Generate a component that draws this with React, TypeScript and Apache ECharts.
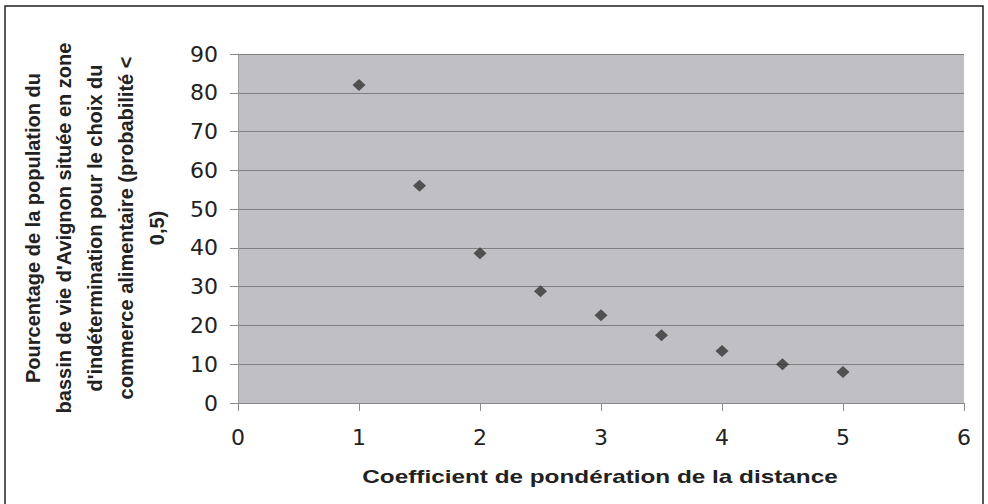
import React, { useEffect, useRef } from "react";
import * as echarts from "echarts";

const xValues = [1, 1.5, 2, 2.5, 3, 3.5, 4, 4.5, 5];
const yValues = [82, 56, 38.6, 28.8, 22.6, 17.5, 13.4, 10, 8];
const yTitleLines = [
  "Pourcentage de la population du",
  "bassin de vie d'Avignon située en zone",
  "d'indétermination pour le choix du",
  "commerce alimentaire (probabilité <",
  "0,5)",
];
const xTitle = "Coefficient de pondération de la distance";

export default function App() {
  const ref = useRef<HTMLDivElement>(null);
  useEffect(() => {
    document.body.style.margin = "0";
    const chart = echarts.init(ref.current!, null, { renderer: "svg" });
    const font = "Liberation Sans, Arial, sans-serif";
    const tickFont = "DejaVu Sans, sans-serif";
    chart.setOption({
      animation: false,
      backgroundColor: "#ffffff",
      grid: { left: 238, top: 54, right: 24, bottom: 101, show: true, backgroundColor: "#c0c0c4", borderWidth: 0 },
      xAxis: {
        type: "value",
        min: 0,
        max: 6,
        interval: 1,
        axisLine: { show: true, lineStyle: { color: "#8a8a8a", width: 1 } },
        axisTick: { show: true, inside: false, length: 8, lineStyle: { color: "#8a8a8a" } },
        splitLine: { show: false },
        axisLabel: { fontFamily: tickFont, fontSize: 22, color: "#222", margin: 23 },
      },
      yAxis: {
        type: "value",
        min: 0,
        max: 90,
        interval: 10,
        axisLine: { show: true, lineStyle: { color: "#9a9a9a", width: 1 } },
        axisTick: { show: true, inside: false, length: 8, lineStyle: { color: "#8a8a8a" } },
        splitLine: { show: true, lineStyle: { color: "#7e7e7e", width: 1.2 } },
        axisLabel: { fontFamily: tickFont, fontSize: 22, color: "#222", margin: 20 },
      },
      series: [
        {
          type: "scatter",
          data: xValues.map((x, i) => [x, yValues[i]]),
          symbol: "diamond",
          symbolSize: [13, 12],
          itemStyle: { color: "#333333" },
        },
      ],
      graphic: [
        {
          type: "rect",
          shape: { x: 5, y: 6, width: 978, height: 520 },
          style: { fill: "none", stroke: "#222", lineWidth: 1.5 },
          silent: true,
        },
        {
          type: "text",
          x: 95,
          y: 228,
          rotation: Math.PI / 2,
          style: {
            text: yTitleLines.join("\n"),
            font: `bold 20px ${font}`,
            fill: "#222",
            align: "center",
            verticalAlign: "middle",
            lineHeight: 31,
          },
        },
        {
          type: "text",
          x: 600,
          y: 476,
          scaleX: 1.28,
          style: {
            text: xTitle,
            font: `bold 19px ${font}`,
            fill: "#222",
            align: "center",
            verticalAlign: "middle",
          },
        },
      ],
    });
    return () => chart.dispose();
  }, []);
  return <div ref={ref} style={{ position: "fixed", left: 0, top: 0, width: 988, height: 504 }} />;
}
